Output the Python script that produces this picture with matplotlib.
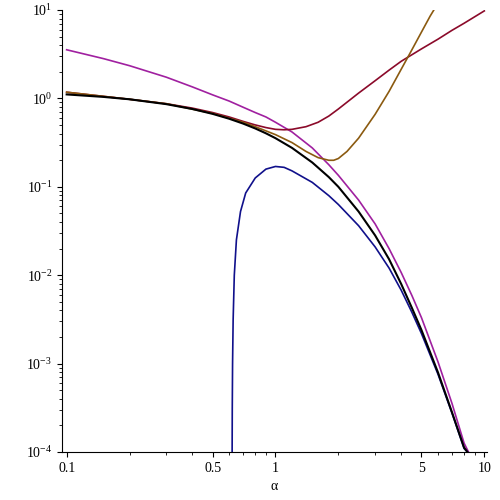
import numpy as np
import matplotlib.pyplot as plt

plt.rcParams['font.family'] = ['Liberation Serif', 'DejaVu Serif']

# values (log10 of y)
x_black = [0.1, 0.15, 0.2, 0.3, 0.4, 0.5, 0.6, 0.7, 0.8, 0.9, 1.0, 1.2, 1.5, 1.8, 2.0, 2.5, 3.0, 3.5, 4.0, 4.5, 5.0, 6.0, 7.0, 8.0, 8.3]
ly_black = [0.045, 0.017, -0.01, -0.065, -0.12, -0.175, -0.23, -0.285, -0.34, -0.395, -0.45, -0.56, -0.725, -0.89, -1.0, -1.28, -1.55, -1.82, -2.1, -2.37, -2.62, -3.1, -3.55, -3.95, -4.0]

x_blue = [0.62, 0.621, 0.623, 0.627, 0.635, 0.65, 0.68, 0.72, 0.8, 0.9, 1.0, 1.1, 1.2, 1.5, 1.8, 2.0, 2.5, 3.0, 3.5, 4.0, 4.5, 5.0, 6.0, 7.0, 8.0, 8.3]
ly_blue = [-4, -3.5, -3, -2.5, -2, -1.6, -1.28, -1.07, -0.9, -0.8, -0.77, -0.78, -0.82, -0.95, -1.1, -1.2, -1.44, -1.68, -1.92, -2.17, -2.42, -2.66, -3.12, -3.56, -3.96, -4.0]

x_purple = [0.1, 0.15, 0.2, 0.3, 0.4, 0.5, 0.6, 0.7, 0.8, 0.9, 1.0, 1.2, 1.5, 1.8, 2.0, 2.5, 3.0, 3.5, 4.0, 4.5, 5.0, 6.0, 7.0, 8.0, 8.4]
ly_purple = [0.55, 0.45, 0.37, 0.24, 0.13, 0.04, -0.03, -0.1, -0.16, -0.21, -0.27, -0.38, -0.56, -0.75, -0.87, -1.15, -1.42, -1.7, -1.97, -2.23, -2.48, -2.98, -3.45, -3.9, -4.0]

x_red = [0.1, 0.2, 0.3, 0.4, 0.5, 0.6, 0.7, 0.8, 0.9, 1.0, 1.1, 1.2, 1.4, 1.6, 1.8, 2.0, 2.5, 3.0, 3.5, 4.0, 5.0, 6.0, 7.0, 8.0, 10.0]
ly_red = [0.07, -0.01, -0.06, -0.11, -0.16, -0.21, -0.26, -0.3, -0.33, -0.35, -0.355, -0.35, -0.32, -0.27, -0.2, -0.12, 0.06, 0.2, 0.32, 0.42, 0.56, 0.67, 0.77, 0.85, 0.99]

x_brown = [0.1, 0.2, 0.3, 0.5, 0.7, 0.8, 1.0, 1.2, 1.4, 1.6, 1.8, 1.9, 2.0, 2.2, 2.5, 3.0, 3.5, 4.0, 4.5, 5.0, 5.5, 5.8]
ly_brown = [0.07, -0.01, -0.06, -0.17, -0.27, -0.32, -0.41, -0.5, -0.6, -0.67, -0.7, -0.7, -0.68, -0.6, -0.45, -0.18, 0.08, 0.33, 0.55, 0.75, 0.93, 1.02]

fig = plt.figure(figsize=(5, 5), dpi=100)
ax = fig.add_axes([0.124, 0.096, 0.85, 0.884])
ax.plot(x_purple, 10 ** np.array(ly_purple), color='#a020a0', lw=1.2)
ax.plot(x_red, 10 ** np.array(ly_red), color='#8b0a2a', lw=1.2)
ax.plot(x_brown, 10 ** np.array(ly_brown), color='#8b5a10', lw=1.2)
ax.plot(x_blue, 10 ** np.array(ly_blue), color='#10108b', lw=1.2)
ax.plot(x_black, 10 ** np.array(ly_black), color='black', lw=1.5)
ax.set_xscale('log')
ax.set_yscale('log')
ax.set_xlim(0.095, 10.3)
ax.set_ylim(1e-4, 10)
ax.set_xticks([0.1, 0.5, 1, 5, 10])
ax.set_xticklabels(['0.1', '0.5', '1', '5', '10'])
ax.set_xlabel('α')
for s in ['top', 'right']:
    ax.spines[s].set_visible(False)
ax.tick_params(direction='out', labelsize=10)
fig.savefig('out.png')
